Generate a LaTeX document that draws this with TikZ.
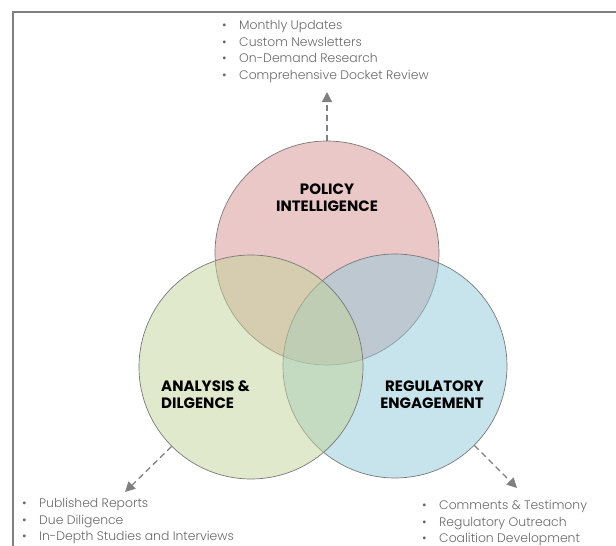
\documentclass[tikz,border=0pt]{standalone}
\usepackage{fontspec}
\setmainfont{Poppins}
\newfontfamily\listfont{Poppins Light}
\usetikzlibrary{arrows.meta}
\definecolor{framegray}{RGB}{128,128,128}
\definecolor{circlegray}{RGB}{120,120,120}
\definecolor{textgray}{RGB}{105,105,105}
\definecolor{pinkc}{RGB}{215,145,145}
\definecolor{greenc}{RGB}{193,211,153}
\definecolor{bluec}{RGB}{143,201,217}
\newcommand{\itm}[1]{\makebox[17pt][l]{\textbullet}#1}
\tikzset{
  venn/.style={circle,draw=circlegray,line width=0.7pt,minimum size=224pt,inner sep=0pt,fill opacity=0.5},
  title/.style={font=\bfseries\fontsize{15}{17}\selectfont,inner sep=0pt},
  items/.style={font=\listfont\fontsize{12.4}{16.7}\selectfont,text=textgray,align=left,inner sep=0pt,anchor=north west},
  link/.style={draw=framegray,line width=1.3pt,dash pattern=on 6pt off 4pt,-{Triangle[length=10pt,width=10pt]}},
}

\begin{document}
\begin{tikzpicture}[x=1pt,y=-1pt]
\useasboundingbox (0,0) rectangle (616,546);
\draw[framegray,line width=2pt] (616,12) -- (13,12) -- (13,546);

% the three circles
\node[venn,fill=pinkc] (policy) at (327,253) {};
\node[venn,fill=bluec] (regulatory) at (395,366) {};
\node[venn,fill=greenc] (analysis) at (251,367) {};

% titles
\node[title,align=center] (policyT) at (327,197.5) {POLICY\\INTELLIGENCE};
\node[title,align=left,anchor=west] (analysisT) at (161,395) {ANALYSIS \&\\DILGENCE};
\node[title,align=right,anchor=east] (regulatoryT) at (484,395) {REGULATORY\\ENGAGEMENT};

% lists
\node[items] (policyL) at (222,20) {\itm{Monthly Updates}\\\itm{Custom Newsletters}\\\itm{On-Demand Research}\\\itm{Comprehensive Docket Review}};
\node[items] (analysisL) at (22,498) {\itm{Published Reports}\\\itm{Due Diligence}\\\itm{In-Depth Studies and Interviews}};
\node[items] (regulatoryL) at (422,500) {\itm{Comments \& Testimony}\\\itm{Regulatory Outreach}\\\itm{Coalition Development}};

% arrows
\coordinate (policyTip) at (327,92);
\coordinate (analysisTip) at (125,492);
\coordinate (regulatoryTip) at (517,488);
\draw[link] (policy.north) -- (policyTip);
\draw[link] (analysis.225) -- (analysisTip);
\draw[link] (regulatory.-45) -- (regulatoryTip);
\end{tikzpicture}
\end{document}
